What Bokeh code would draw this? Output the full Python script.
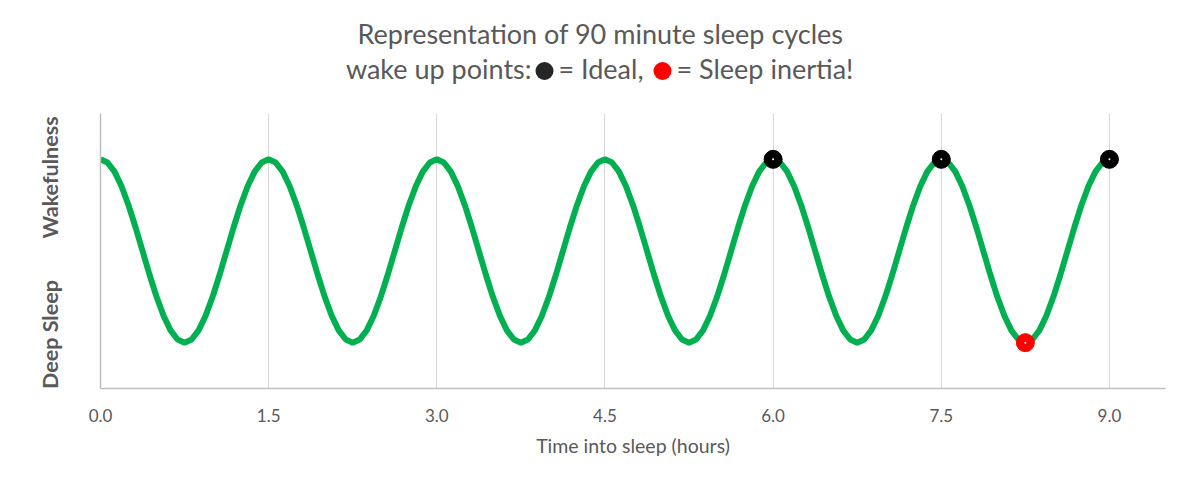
from bokeh.plotting import figure
from bokeh.models import Range1d, FixedTicker
from bokeh.layouts import column
from bokeh.core.properties import value
from bokeh.embed import file_html
from bokeh.resources import INLINE

# --- data ---
# time into sleep (hours), sampled every 1/24 of a 90-minute cycle
time_h = [i * 0.0625 for i in range(145)]
# sleep level (+1 = wakefulness, -1 = deep sleep)
level = [
    1.000, 0.966, 0.866, 0.707, 0.500, 0.259, 0.000, -0.259, -0.500, -0.707, -0.866, -0.966,
    -1.000, -0.966, -0.866, -0.707, -0.500, -0.259, 0.000, 0.259, 0.500, 0.707, 0.866, 0.966,
    1.000, 0.966, 0.866, 0.707, 0.500, 0.259, 0.000, -0.259, -0.500, -0.707, -0.866, -0.966,
    -1.000, -0.966, -0.866, -0.707, -0.500, -0.259, 0.000, 0.259, 0.500, 0.707, 0.866, 0.966,
    1.000, 0.966, 0.866, 0.707, 0.500, 0.259, 0.000, -0.259, -0.500, -0.707, -0.866, -0.966,
    -1.000, -0.966, -0.866, -0.707, -0.500, -0.259, 0.000, 0.259, 0.500, 0.707, 0.866, 0.966,
    1.000, 0.966, 0.866, 0.707, 0.500, 0.259, 0.000, -0.259, -0.500, -0.707, -0.866, -0.966,
    -1.000, -0.966, -0.866, -0.707, -0.500, -0.259, 0.000, 0.259, 0.500, 0.707, 0.866, 0.966,
    1.000, 0.966, 0.866, 0.707, 0.500, 0.259, 0.000, -0.259, -0.500, -0.707, -0.866, -0.966,
    -1.000, -0.966, -0.866, -0.707, -0.500, -0.259, 0.000, 0.259, 0.500, 0.707, 0.866, 0.966,
    1.000, 0.966, 0.866, 0.707, 0.500, 0.259, 0.000, -0.259, -0.500, -0.707, -0.866, -0.966,
    -1.000, -0.966, -0.866, -0.707, -0.500, -0.259, 0.000, 0.259, 0.500, 0.707, 0.866, 0.966,
    1.000,
]
ideal_x = [6.0, 7.5, 9.0]
ideal_y = [1.0, 1.0, 1.0]
inertia_x = [8.25]
inertia_y = [-1.0]
x_ticks = [0.0, 1.5, 3.0, 4.5, 6.0, 7.5, 9.0]
x_tick_labels = ["0.0", "1.5", "3.0", "4.5", "6.0", "7.5", "9.0"]
y_label_pos = [0.802, -0.911]
y_label_text = ["Wakefulness", "Deep Sleep"]
title_line1 = "Representation of 90 minute sleep cycles"
title_line2_texts = ["wake up points:", "= Ideal,", "= Sleep inertia!"]
legend_bullet_colors = ["#262626", "#ff0000"]

FONT = "Lato"
TXT = "#595959"

# ---------- header (two-line title with coloured bullets), page-pixel coordinates ----------
h = figure(frame_width=1065, frame_height=100, output_backend="svg", toolbar_location=None,
           x_range=Range1d(100, 1165), y_range=Range1d(100, 0),
           x_axis_location=None, y_axis_location=None,
           min_border_left=100, min_border_right=19, min_border_top=0, min_border_bottom=0)
h.outline_line_color = None
h.xgrid.grid_line_color = None
h.ygrid.grid_line_color = None
h.text(x=[600], y=[33], text=[title_line1], text_align="center", text_baseline="alphabetic",
       text_font=value(FONT), text_font_size="27px", text_color=TXT)
h.text(x=[531, 558, 676], y=[68, 68, 68], text=title_line2_texts,
       text_align=["right", "left", "left"], text_baseline="alphabetic",
       text_font=value(FONT), text_font_size="27px", text_color=TXT)
h.scatter(x=[544, 662], y=[70.5, 70.5], size=18, fill_color=legend_bullet_colors,
          line_color=None)

# ---------- main chart ----------
p = figure(frame_width=1065, frame_height=275, output_backend="svg",
           toolbar_location=None, x_range=Range1d(0, 9.5), y_range=Range1d(-1.5, 1.5),
           min_border_left=100, min_border_right=19, min_border_bottom=80, min_border_top=13)
p.outline_line_color = None

# x axis
p.xaxis.ticker = FixedTicker(ticks=x_ticks)
p.xaxis.major_label_overrides = {t: l for t, l in zip(x_ticks, x_tick_labels)}
p.xaxis.axis_label = "Time into sleep (hours)"
p.xaxis.axis_label_text_font = FONT
p.xaxis.axis_label_text_font_size = "19.5px"
p.xaxis.axis_label_text_font_style = "normal"
p.xaxis.axis_label_text_color = TXT
p.xaxis.axis_label_standoff = 9
p.xaxis.major_label_text_font = FONT
p.xaxis.major_label_text_font_size = "17px"
p.xaxis.major_label_text_color = TXT
p.xaxis.major_label_standoff = 14
p.xaxis.axis_line_color = "#bfbfbf"
p.xaxis.axis_line_width = 1.5
p.xaxis.major_tick_line_color = None
p.xaxis.minor_tick_line_color = None

# y axis with text labels
p.yaxis.ticker = FixedTicker(ticks=y_label_pos)
p.yaxis.major_label_overrides = {t: l for t, l in zip(y_label_pos, y_label_text)}
p.yaxis.major_label_orientation = "vertical"
p.yaxis.major_label_text_font = FONT
p.yaxis.major_label_text_font_size = "21.5px"
p.yaxis.major_label_text_font_style = "bold"
p.yaxis.major_label_text_color = TXT
p.yaxis.major_label_standoff = 31
p.yaxis.axis_line_color = "#bfbfbf"
p.yaxis.axis_line_width = 1.5
p.yaxis.major_tick_line_color = None
p.yaxis.minor_tick_line_color = None

p.xgrid.ticker = FixedTicker(ticks=x_ticks[1:])
p.xgrid.grid_line_color = "#d9d9d9"
p.ygrid.grid_line_color = None

p.line(time_h, level, line_color="#00b050", line_width=6)
p.scatter(ideal_x, ideal_y, size=18, fill_color="black", line_color="black")
p.scatter(inertia_x, inertia_y, size=18, fill_color="#ff0000", line_color="#ff0000")
p.scatter(ideal_x + inertia_x, ideal_y + inertia_y, size=2, fill_color="white", line_color=None)

open("out.html", "w").write(file_html(column(h, p), INLINE))
